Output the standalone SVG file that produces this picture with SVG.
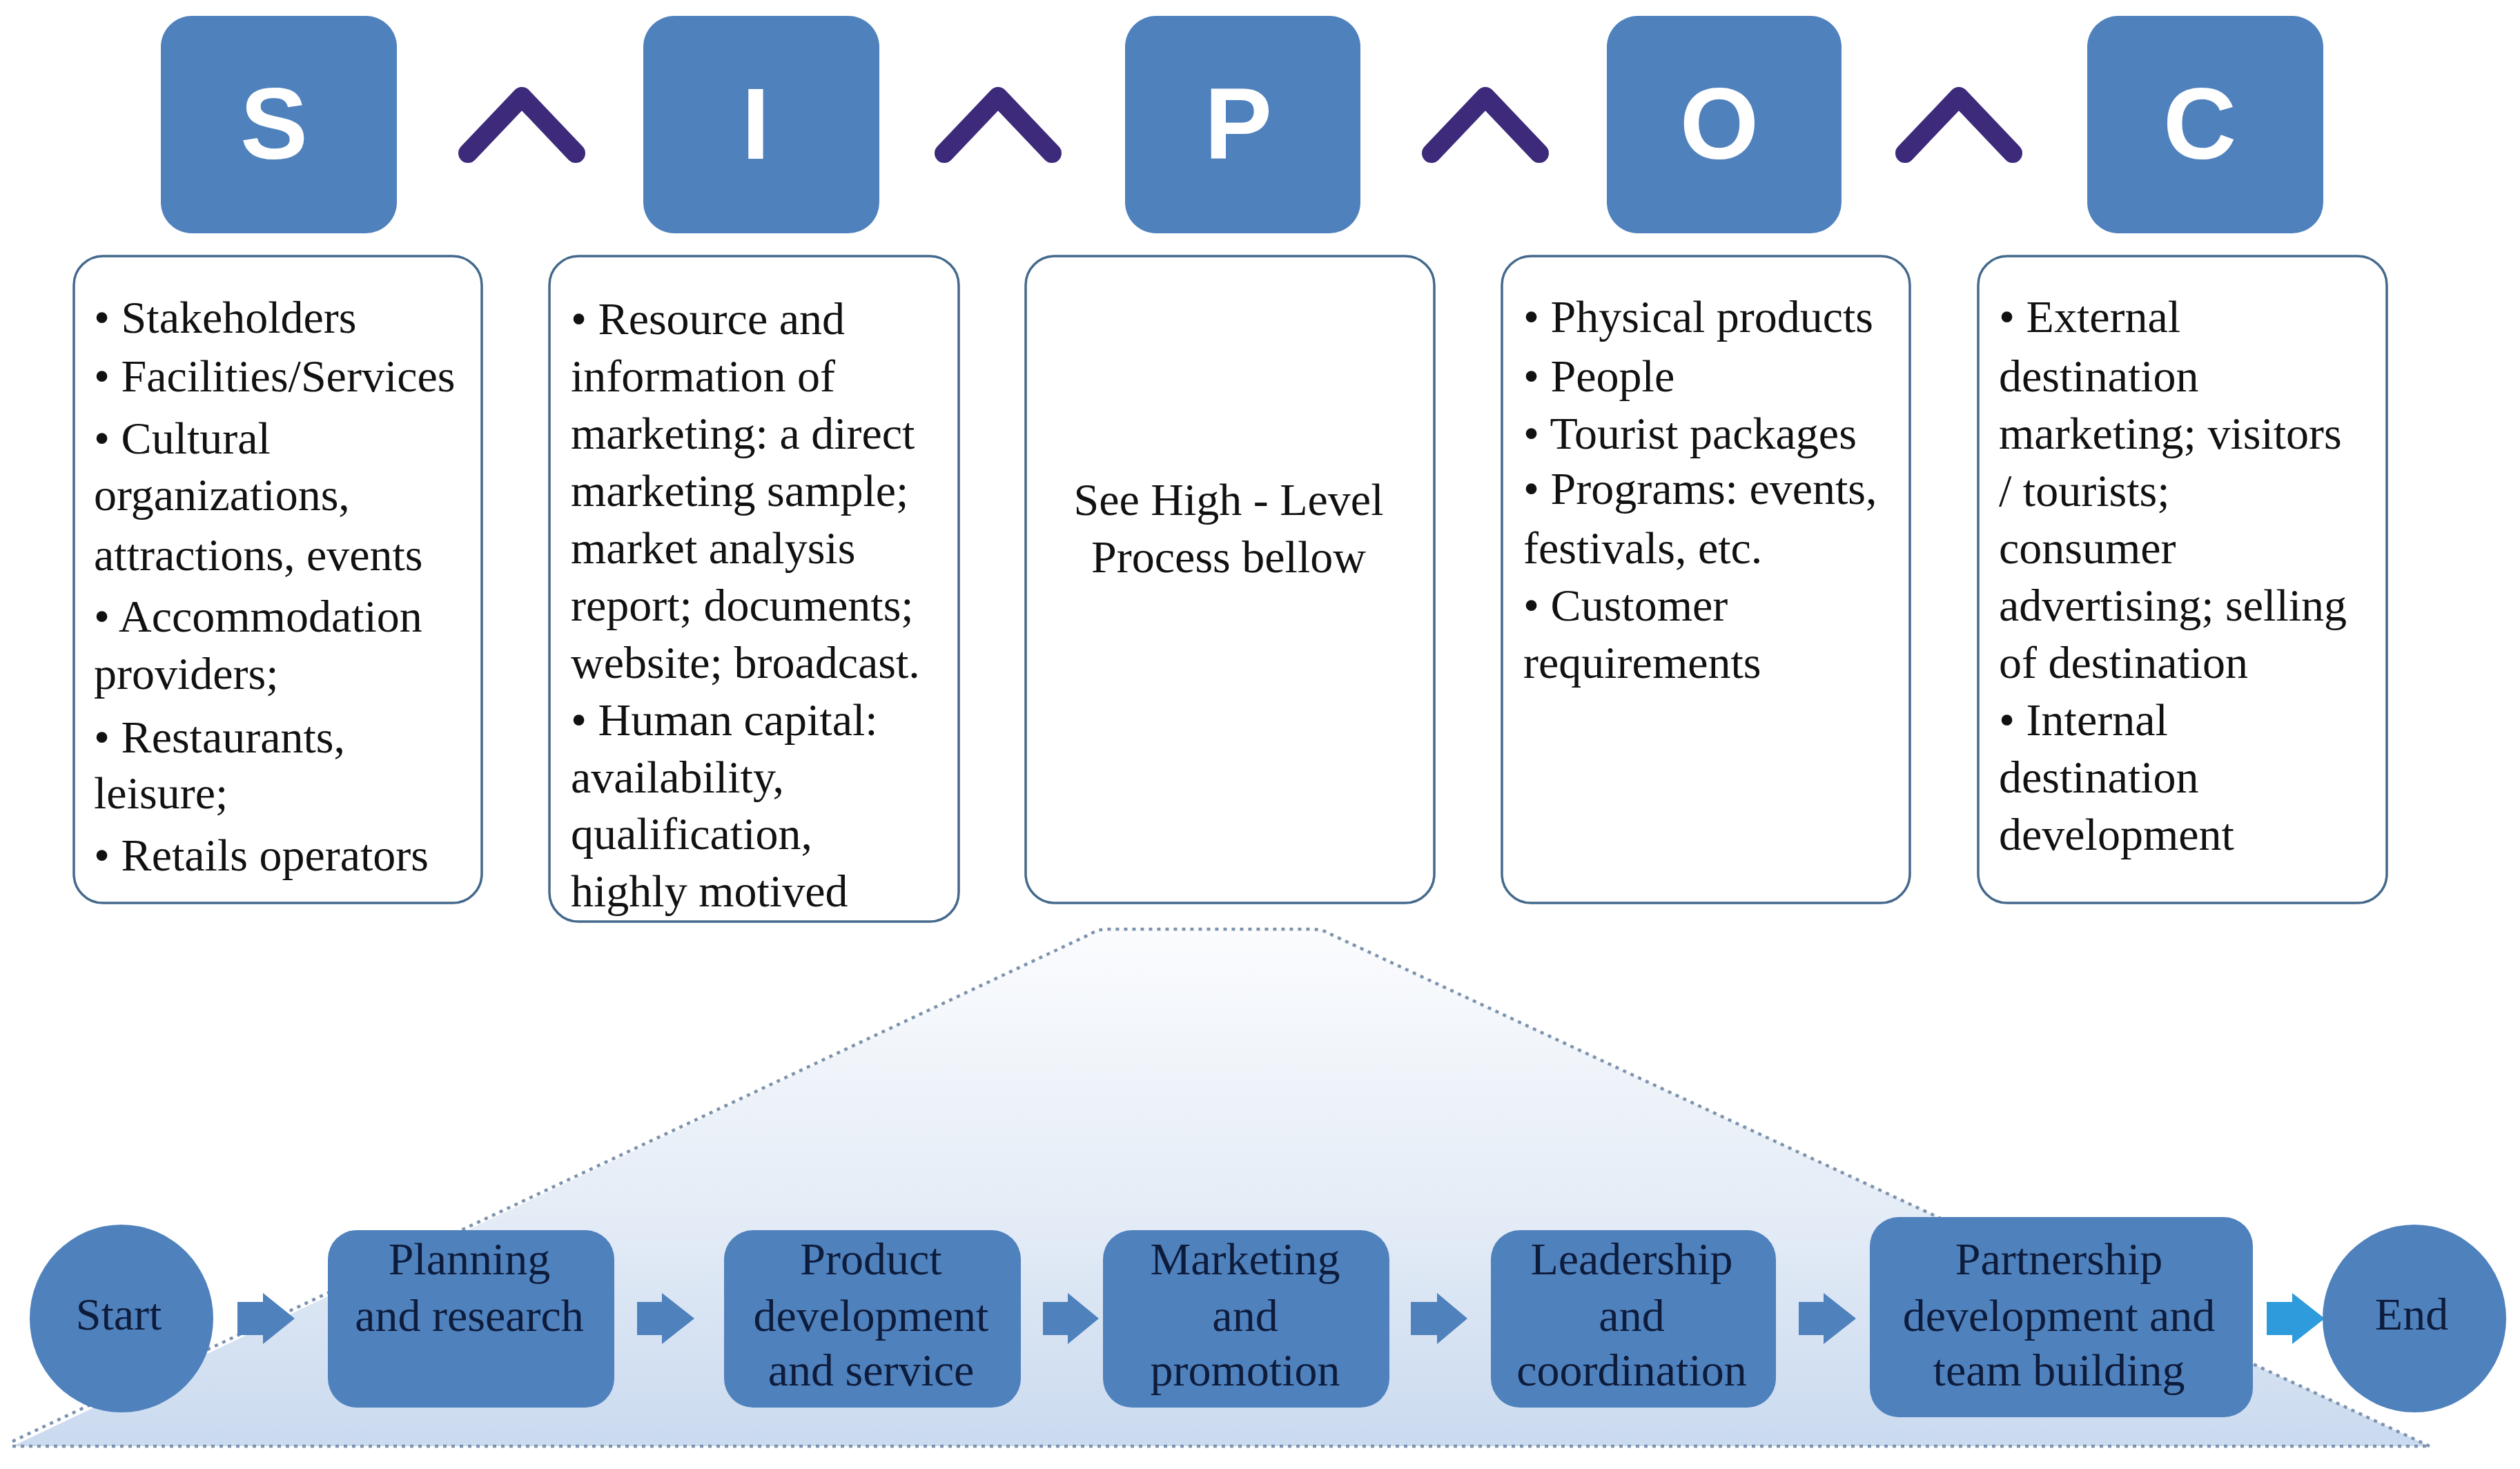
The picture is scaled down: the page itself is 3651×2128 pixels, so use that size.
<svg xmlns="http://www.w3.org/2000/svg" width="3651" height="2128" viewBox="0 0 3651 2128">
<defs>
<linearGradient id="trap" x1="0" y1="0" x2="0" y2="1">
<stop offset="0" stop-color="#FBFCFE"/>
<stop offset="0.55" stop-color="#E4ECF6"/>
<stop offset="1" stop-color="#CADAEF"/>
</linearGradient>
<style>
.lbox{fill:#4F81BD}
.letter{font-family:"Liberation Sans",Arial,sans-serif;font-weight:bold;font-size:147px;fill:#ffffff;text-anchor:middle}
.caret{fill:none;stroke:#3D2A7A;stroke-width:28;stroke-linecap:round;stroke-linejoin:round}
.tbox{fill:#ffffff;stroke:#44698C;stroke-width:3.5}
.t{font-family:"Liberation Serif","Times New Roman",serif;font-size:66px;fill:#111111}
.pc{text-anchor:middle}
.pnode{fill:#4F81BD}
.pt{font-family:"Liberation Serif","Times New Roman",serif;font-size:66px;fill:#0E1C3C;text-anchor:middle}
.arr{fill:#4F81BD}
.arr2{fill:#2E9BDD}
.dots{fill:none;stroke:#7D93AE;stroke-width:4.5;stroke-dasharray:5 7}
</style>
</defs>
<rect width="3651" height="2128" fill="#ffffff"/>

<!-- high-level process background -->
<g id="process-area">
<path d="M18,2095 L1580,1353 Q1590,1346 1605,1346 L1900,1346 Q1915,1346 1925,1352 L3520,2095 Z" fill="url(#trap)" stroke="none"/>
<path class="dots" d="M18,2088 L1580,1353 Q1590,1346 1605,1346 L1900,1346 Q1915,1346 1925,1352 L3520,2095"/>
<line class="dots" x1="18" y1="2095" x2="3520" y2="2095"/>
</g>

<!-- SIPOC letters -->
<g id="node-S"><rect class="lbox" x="233" y="23" width="342" height="315" rx="45"/><text class="letter" x="397" y="230">S</text></g>
<g id="node-I"><rect class="lbox" x="932" y="23" width="342" height="315" rx="45"/><text class="letter" x="1095" y="230">I</text></g>
<g id="node-P"><rect class="lbox" x="1630" y="23" width="341" height="315" rx="45"/><text class="letter" x="1794" y="230">P</text></g>
<g id="node-O"><rect class="lbox" x="2328" y="23" width="340" height="315" rx="45"/><text class="letter" x="2491" y="230">O</text></g>
<g id="node-C"><rect class="lbox" x="3024" y="23" width="342" height="315" rx="45"/><text class="letter" x="3187" y="230">C</text></g>

<g id="connectors">
<polyline class="caret" points="678,222 756,140 834,222"/>
<polyline class="caret" points="1368,222 1446,140 1524,222"/>
<polyline class="caret" points="2074,222 2152,140 2230,222"/>
<polyline class="caret" points="2760,222 2838,140 2916,222"/>
<path class="arr" d="M344,1886 L381,1886 L381,1873 L427,1910 L381,1947 L381,1934 L344,1934 Z"/>
<path class="arr" d="M923,1886 L959,1886 L959,1873 L1006,1910 L959,1947 L959,1934 L923,1934 Z"/>
<path class="arr" d="M1511,1886 L1547,1886 L1547,1873 L1592,1910 L1547,1947 L1547,1934 L1511,1934 Z"/>
<path class="arr" d="M2044,1886 L2082,1886 L2082,1873 L2126,1910 L2082,1947 L2082,1934 L2044,1934 Z"/>
<path class="arr" d="M2606,1886 L2642,1886 L2642,1873 L2689,1910 L2642,1947 L2642,1934 L2606,1934 Z"/>
<path class="arr2" d="M3284,1886 L3321,1886 L3321,1873 L3368,1910 L3321,1947 L3321,1934 L3284,1934 Z"/>
</g>

<!-- SIPOC detail boxes -->
<g id="box-S">
<rect class="tbox" x="107" y="371" width="591" height="937" rx="42"/>
<text class="t" x="136" y="482">• Stakeholders</text>
<text class="t" x="136" y="567">• Facilities/Services</text>
<text class="t" x="136" y="657">• Cultural</text>
<text class="t" x="136" y="739">organizations,</text>
<text class="t" x="136" y="826">attractions, events</text>
<text class="t" x="136" y="915">• Accommodation</text>
<text class="t" x="136" y="998">providers;</text>
<text class="t" x="136" y="1090">• Restaurants,</text>
<text class="t" x="136" y="1171">leisure;</text>
<text class="t" x="136" y="1261">• Retails operators</text>
</g>
<g id="box-I">
<rect class="tbox" x="796" y="371" width="593" height="964" rx="42"/>
<text class="t" x="827" y="484">• Resource and</text>
<text class="t" x="827" y="567">information of</text>
<text class="t" x="827" y="650">marketing: a direct</text>
<text class="t" x="827" y="733">marketing sample;</text>
<text class="t" x="827" y="816">market analysis</text>
<text class="t" x="827" y="899">report; documents;</text>
<text class="t" x="827" y="982">website; broadcast.</text>
<text class="t" x="827" y="1065">• Human capital:</text>
<text class="t" x="827" y="1148">availability,</text>
<text class="t" x="827" y="1230">qualification,</text>
<text class="t" x="827" y="1313">highly motived</text>
</g>
<g id="box-P">
<rect class="tbox" x="1486" y="371" width="592" height="937" rx="42"/>
<text class="t pc" x="1780" y="746">See High - Level</text>
<text class="t pc" x="1780" y="829">Process bellow</text>
</g>
<g id="box-O">
<rect class="tbox" x="2176" y="371" width="591" height="937" rx="42"/>
<text class="t" x="2207" y="481">• Physical products</text>
<text class="t" x="2207" y="567">• People</text>
<text class="t" x="2207" y="650">• Tourist packages</text>
<text class="t" x="2207" y="730">• Programs: events,</text>
<text class="t" x="2207" y="816">festivals, etc.</text>
<text class="t" x="2207" y="899">• Customer</text>
<text class="t" x="2207" y="982">requirements</text>
</g>
<g id="box-C">
<rect class="tbox" x="2866" y="371" width="592" height="937" rx="42"/>
<text class="t" x="2896" y="481">• External</text>
<text class="t" x="2896" y="567">destination</text>
<text class="t" x="2896" y="650">marketing; visitors</text>
<text class="t" x="2896" y="733">/ tourists;</text>
<text class="t" x="2896" y="816">consumer</text>
<text class="t" x="2896" y="899">advertising; selling</text>
<text class="t" x="2896" y="982">of destination</text>
<text class="t" x="2896" y="1065">• Internal</text>
<text class="t" x="2896" y="1148">destination</text>
<text class="t" x="2896" y="1231">development</text>
</g>

<!-- process nodes -->
<g id="node-start"><ellipse class="pnode" cx="176" cy="1910" rx="133" ry="136"/><text class="pt" x="172" y="1926">Start</text></g>
<g id="node-planning"><rect class="pnode" x="475" y="1782" width="415" height="257" rx="42"/>
<text class="pt" x="680" y="1846">Planning</text><text class="pt" x="680" y="1928">and research</text></g>
<g id="node-product"><rect class="pnode" x="1049" y="1782" width="430" height="257" rx="42"/>
<text class="pt" x="1262" y="1846">Product</text><text class="pt" x="1262" y="1928">development</text><text class="pt" x="1262" y="2007">and service</text></g>
<g id="node-marketing"><rect class="pnode" x="1598" y="1782" width="415" height="257" rx="42"/>
<text class="pt" x="1804" y="1846">Marketing</text><text class="pt" x="1804" y="1928">and</text><text class="pt" x="1804" y="2007">promotion</text></g>
<g id="node-leadership"><rect class="pnode" x="2160" y="1782" width="413" height="257" rx="42"/>
<text class="pt" x="2364" y="1846">Leadership</text><text class="pt" x="2364" y="1928">and</text><text class="pt" x="2364" y="2007">coordination</text></g>
<g id="node-partnership"><rect class="pnode" x="2709" y="1763" width="555" height="290" rx="42"/>
<text class="pt" x="2983" y="1846">Partnership</text><text class="pt" x="2983" y="1928">development and</text><text class="pt" x="2983" y="2007">team building</text></g>
<g id="node-end"><ellipse class="pnode" cx="3498" cy="1910" rx="133" ry="136"/><text class="pt" x="3494" y="1926">End</text></g>
</svg>
